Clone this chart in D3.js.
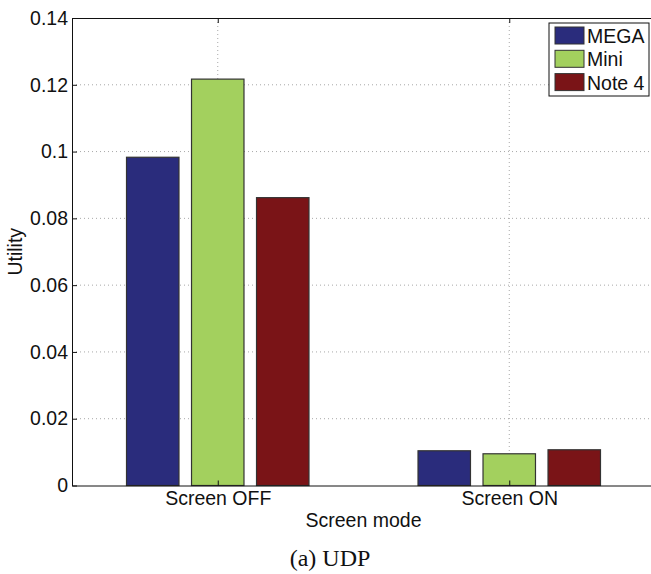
<!DOCTYPE html>
<html>
<head>
<meta charset="utf-8">
<script src="https://cdn.jsdelivr.net/npm/d3@7"></script>
<style>
  body { margin: 0; background: #fff; }
  svg text { font-family: "Liberation Sans", Arial, sans-serif; }
</style>
</head>
<body>
<svg id="chart" width="651" height="574"></svg>
<script>
// data
var categories = ["Screen OFF", "Screen ON"];
var devices = ["MEGA", "Mini", "Note 4"];
var megaVals = [0.0983, 0.0104];
var miniVals = [0.1217, 0.0095];
var note4Vals = [0.0862, 0.0107];
var yTicks = [0, 0.02, 0.04, 0.06, 0.08, 0.1, 0.12, 0.14];
var colors = ["#2a2c7c", "#a3d05e", "#7a1417"];

var series = [megaVals, miniVals, note4Vals];

var svg = d3.select("#chart");
var pLeft = 72, pRight = 655, pTop = 18, pBottom = 485.5;
var fs = "19.5px";

// categories at 1 and 2, xlim 0.5..2.5 like matlab (right edge falls off the image)
var x = d3.scaleLinear().domain([0.5, 2.5]).range([pLeft, pRight]);
var y = d3.scaleLinear().domain([0, 0.14]).range([pBottom, pTop]);

var barW = 0.18;   // in category units
var step = 0.223;

// grid
svg.append("g").selectAll("line").data(yTicks.filter(function(d){ return d > 0 && d < 0.14; }))
  .enter().append("line")
  .attr("x1", pLeft).attr("x2", pRight)
  .attr("y1", function(d){ return y(d); }).attr("y2", function(d){ return y(d); })
  .attr("stroke", "#a8a8a8").attr("stroke-width", 1)
  .attr("stroke-dasharray", "1,3");

svg.append("g").selectAll("line").data([1, 2])
  .enter().append("line")
  .attr("x1", function(d){ return x(d); }).attr("x2", function(d){ return x(d); })
  .attr("y1", pTop).attr("y2", pBottom)
  .attr("stroke", "#a8a8a8").attr("stroke-width", 1)
  .attr("stroke-dasharray", "1,3");

// bars
series.forEach(function(vals, s) {
  svg.append("g").selectAll("rect").data(vals)
    .enter().append("rect")
    .attr("x", function(d, i){ return x(i + 1 + (s - 1) * step - barW / 2); })
    .attr("width", x(barW) - x(0))
    .attr("y", function(d){ return y(d); })
    .attr("height", function(d){ return y(0) - y(d); })
    .attr("fill", colors[s])
    .attr("stroke", "#333").attr("stroke-width", 1.2);
});

// axes box
var yAxis = svg.append("g").attr("transform", "translate(" + pLeft + ",0)")
  .call(d3.axisLeft(y).tickValues(yTicks).tickSizeInner(-5).tickSizeOuter(0)
    .tickFormat(function(d){ return String(+d.toFixed(2)); }).tickPadding(4));
yAxis.selectAll("text").style("font-size", fs).attr("fill", "#111");
yAxis.selectAll("line, path").attr("stroke", "#111");

var xAxis = svg.append("g").attr("transform", "translate(0," + pBottom + ")")
  .call(d3.axisBottom(x).tickValues([1, 2]).tickSizeInner(-5).tickSizeOuter(0)
    .tickFormat(function(d){ return categories[d - 1]; }).tickPadding(6));
xAxis.selectAll("text").style("font-size", fs).attr("fill", "#111");
xAxis.selectAll("line, path").attr("stroke", "#111");

var topAxis = svg.append("g").attr("transform", "translate(0," + pTop + ")")
  .call(d3.axisTop(x).tickValues([1, 2]).tickSizeInner(-5).tickSizeOuter(0).tickFormat(""));
topAxis.selectAll("line, path").attr("stroke", "#111");

// axis titles
svg.append("text")
  .attr("transform", "translate(22," + ((pTop + pBottom) / 2) + ") rotate(-90)")
  .attr("text-anchor", "middle")
  .style("font-size", fs).attr("fill", "#111")
  .text("Utility");

svg.append("text")
  .attr("x", (pLeft + pRight) / 2).attr("y", pBottom + 41)
  .attr("text-anchor", "middle")
  .style("font-size", fs).attr("fill", "#111")
  .text("Screen mode");

svg.append("text")
  .attr("x", 330).attr("y", 566)
  .attr("text-anchor", "middle")
  .style("font-family", "'Liberation Serif', 'Times New Roman', serif")
  .style("font-size", "24px").attr("fill", "#111")
  .text("(a) UDP");

// legend
var lg = svg.append("g").attr("transform", "translate(549,23)");
lg.append("rect").attr("width", 100).attr("height", 73)
  .attr("fill", "#fff").attr("stroke", "#111").attr("stroke-width", 1);
devices.forEach(function(name, i) {
  var row = lg.append("g").attr("transform", "translate(0," + (i * 23.3) + ")");
  row.append("rect").attr("x", 6).attr("y", 4).attr("width", 29).attr("height", 17)
    .attr("fill", colors[i]).attr("stroke", "#333");
  row.append("text").attr("x", 38).attr("y", 20)
    .style("font-size", fs).attr("fill", "#111").text(name);
});
</script>
</body>
</html>
